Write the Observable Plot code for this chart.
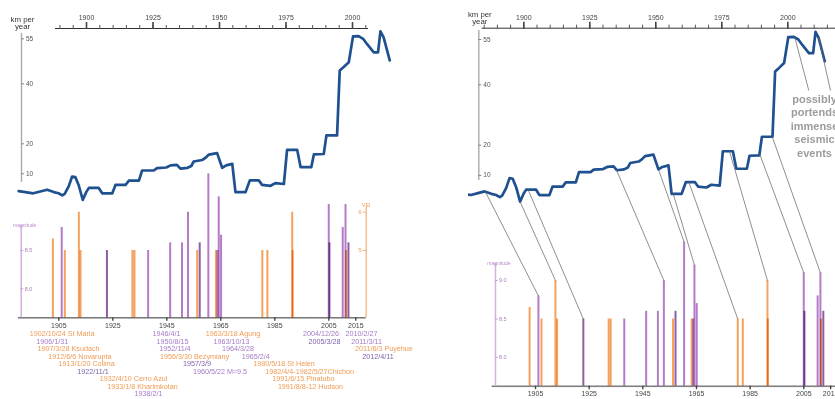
<!DOCTYPE html>
<html><head><meta charset="utf-8">
<script src="https://cdn.jsdelivr.net/npm/d3@7"></script>
<script src="https://cdn.jsdelivr.net/npm/@observablehq/plot@0.6"></script>
<style>
html,body{margin:0;padding:0;background:#fff;}
#chart{position:relative;width:835px;height:399px;overflow:hidden;background:#fff;}
#chart svg{position:absolute;left:0;top:0;background:transparent;}
</style></head><body><div id="chart"></div>
<script>
// ---------------- DATA ----------------
// rate curve (km per year)
const rateYears = [1874.5,1877,1880,1883,1885.2,1887.7,1889.5,1890.9,1891.8,1893.3,1894.6,1895.8,1897.1,1898.6,1899.9,1900.9,1904.6,1905.9,1909.7,1910.9,1914.7,1915.9,1919.7,1920.9,1925.3,1926.5,1930,1931.6,1934,1935.3,1938,1939.4,1940.3,1943.5,1944.7,1946,1949.1,1951,1952.5,1954.8,1956.0,1959.8,1961.4,1964.8,1966.0,1969.2,1971,1974.2,1975.4,1979.2,1980.5,1984.5,1985.5,1989.2,1990.2,1994.2,1995.2,1996.7,1998.6,2000.2,2002.3,2004,2005.5,2008.0,2009.6,2010.5,2011.7,2014.0];
const rateKm = [4.2,3.9,3.5,4.2,4.7,3.9,3.5,2.8,3.3,5.8,9.1,8.9,6.1,1.3,3.9,5.3,5.3,3.5,3.5,6.3,6.3,7.7,7.7,11.1,11.1,11.9,12.1,12.8,13.0,11.7,12.0,12.6,14.1,14.6,15.3,16.4,16.9,12.0,12.8,13.3,3.9,3.9,7.8,7.8,6.3,6.0,6.9,6.6,18.0,18.0,12.2,12.2,16.5,16.6,22.8,22.8,44.4,45.6,47.2,55.8,55.9,55.0,53.2,50.5,50.5,57.5,55.5,47.8];

// events: volcanoes (VEI) and earthquakes (magnitude)
const eventDates = ["1902/10/24","1906/1/31","1907/3/28","1912/6/6","1913/1/20","1922/11/1","1932/4/10","1933/1/8","1938/2/1","1946/4/1","1950/8/15","1952/11/4","1956/3/30","1957/3/9","1960/5/22","1963/3/18","1963/10/13","1964/3/28","1965/2/4","1980/5/18","1982/4/4","1991/6/15","1991/8/8","2004/12/26","2005/3/28","2010/2/27","2011/3/11","2011/6/3","2012/4/11"];
const eventKind = ["v","q","v","v","v","qd","v","v","q","q","q","q","v","qd","q","v","q","q","q","v","v","v","v","q","qd","q","q","v","qd"];
const eventValue = [5.3,8.8,5,6,5,8.5,5,5,8.5,8.6,8.6,9.0,5,8.6,9.5,5,8.5,9.2,8.7,5,5,6,5,9.1,8.6,8.8,9.1,5,8.6];
const eventLabels = ["1902/10/24 St Maria","1906/1/31","1907/3/28 Ksudach","1912/6/6 Novarupta","1913/1/20 Colima","1922/11/1","1932/4/10 Cerro Azul","1933/1/8 Kharimkotan","1938/2/1","1946/4/1","1950/8/15","1952/11/4","1956/3/30 Bezymiany","1957/3/9","1960/5/22 M=9.5","1963/3/18 Agung","1963/10/13","1964/3/28","1965/2/4","1980/5/18 St Helen","1982/4/4-1982/5/27Chichon","1991/6/15 Pinatubo","1991/8/8-12 Hudson","2004/12/26","2005/3/28","2010/2/27","2011/3/11","2011/6/3 Puyehue","2012/4/11"];

// tick labels
const topTicks = [1900,1925,1950,1975,2000];
const barTicks = [1905,1925,1945,1965,1985,2005,2015];
const kmTicks = [55,40,20,10];
const magTicksLeft = [8.5,8.0];
const magTicksRight = [9.0,8.5,8.0];
const veiTicks = [6,5];

// right panel: curve year -> event index
const linkFromYear = [1885.4,1898.6,1901.6,1935.0,1951.0,1956.6,1962.5,1977.9,1989.3,1994.1];
const linkToEvent = [1,3,5,11,14,17,19,21,23,26];
const noteFromYear = [2002.65,2011.7];
const noteText = "possibly\nportends\nimmense\nseismic\nevents";

// ---------------- LAYOUT / STYLE ----------------
const W = 835, H = 399;
const FONT = '"Liberation Sans", Arial, Helvetica, sans-serif';
const LINE = "#1f5190";
const barColor = {v: "#f5a25d", q: "#b57bc9", qd: "#8e5ea3"};
const textColor = {v: "#f09c55", q: "#a57bc6", qd: "#7d5ea6"};
const MAGAXIS = "#d4b0de", VEIAXIS = "#f7c08e";
// label layout (row, centre in bar-axis years)
const labelRow = [0,1,2,3,4,5,6,7,8, 0,1,2,3,4,5, 0,1,2,3,4,5,6,7, 0,1,0,1,2,3];
const labelCenter = [1906.2,1902.6,1908.6,1912.8,1915.3,1917.7,1932.7,1936.0,1938.2,1944.9,1947.1,1948.0,1955.3,1956.2,1964.7,1969.5,1969.0,1971.4,1977.9,1988.4,1997.9,1995.6,1998.2,2002.1,2003.4,2017.1,2019.0,2025.4,2023.2];

function decYear(s) {
  const [y, m, d] = s.split("/").map(Number);
  const start = Date.UTC(y, 0, 1), end = Date.UTC(y + 1, 0, 1);
  return y + (Date.UTC(y, m - 1, d) - start + 43200000) / (end - start);
}
const veiToMag = v => 8.5 + 0.5 * (v - 5);
const rate = rateYears.map((year, i) => ({year, km: rateKm[i]}));
const events = eventDates.map((d, i) => ({t: decYear(d), kind: eventKind[i], value: eventValue[i], label: eventLabels[i]}));
const topMag = e => e.kind === "v" ? veiToMag(e.value) : e.value;
function rateAt(yr) {
  for (let i = 1; i < rateYears.length; i++) {
    if (yr <= rateYears[i]) {
      const f = (yr - rateYears[i-1]) / (rateYears[i] - rateYears[i-1]);
      return rateKm[i-1] + f * (rateKm[i] - rateKm[i-1]);
    }
  }
  return rateKm[rateKm.length - 1];
}

// panel frame helper: pixel anchors -> scale domains and margins
function panel(cfg) {
  const {x, y} = cfg;
  const xv = p => x.v0 + (p - x.p0) / x.k;
  const yv = p => y.v0 - (p - y.p0) / y.k;
  const xo = {domain: [xv(x.frame[0]), xv(x.frame[1])]};
  if (cfg.noXAxis) xo.axis = null;
  return {
    xv, yv,
    base: yv(y.frame[1]), top: yv(y.frame[0]),
    opts: {
      width: W, height: H,
      marginLeft: x.frame[0], marginRight: W - x.frame[1],
      marginTop: y.frame[0], marginBottom: H - y.frame[1],
      x: xo,
      y: {domain: [yv(y.frame[1]), yv(y.frame[0])], axis: null},
      color: {type: "identity"},
      style: {background: "transparent", overflow: "visible", fontFamily: FONT}
    }
  };
}
const chart = document.getElementById("chart");
const add = (P, marks) => { const svg = Plot.plot({...P.opts, marks}); chart.appendChild(svg); return svg; };
const yearFmt = d => String(d);

// ---- rate panel marks
function rateMarks(P, o) {
  const ax = P.xv(o.kmAxis);
  return [
    Plot.ruleY([P.top], {x1: P.xv(o.topAxis[0]), x2: P.xv(o.topAxis[1]), stroke: "#333", strokeWidth: 1}),
    Plot.axisX({anchor: "top", ticks: d3.range(o.minor[0], o.minor[1], 5), tickSize: 4, tickFormat: () => "", stroke: "#555", label: null}),
    Plot.axisX({anchor: "top", ticks: topTicks, tickSize: 7, strokeWidth: 1.6, tickPadding: 1.5, fontSize: 7, color: "#444", tickFormat: yearFmt, label: null}),
    Plot.ruleX([ax], {y1: P.yv(o.kmSpan[1]), y2: P.yv(o.kmSpan[0]), stroke: "#aaa", strokeWidth: 1.4}),
    Plot.ruleY(kmTicks, {y: d => d, x1: ax, x2: P.xv(o.kmAxis + 3), stroke: "#888"}),
    Plot.text(kmTicks, {x: ax, y: d => d, text: d => String(d), dx: 4.5, textAnchor: "start", fontSize: 6.5, fill: "#555"}),
    Plot.text(["km per\nyear"], {x: P.xv(o.kmAxis + 1), y: P.yv(o.titleBottom), lineAnchor: "bottom", lineHeight: 0.95, fontSize: 7.8, fill: "#333"}),
    Plot.line(rate, {x: "year", y: "km", stroke: LINE, strokeWidth: 2.7, strokeLinejoin: "round", clip: o.clip})
  ];
}
// ---- bar panel marks
function barMarks(P, o) {
  const m = P.xv(o.magAxis), v = P.xv(o.veiAxis);
  return [
    Plot.ruleY([P.base], {x1: P.xv(o.axis[0]), x2: P.xv(o.axis[1]), stroke: "#333", strokeWidth: 1}),
    Plot.axisX({anchor: "bottom", ticks: d3.range(o.minor[0], o.minor[1]), tickSize: 1.6, tickFormat: () => "", stroke: "#999", label: null}),
    Plot.axisX({anchor: "bottom", ticks: barTicks, tickSize: 3.5, strokeWidth: 1.4, tickPadding: 1.5, fontSize: 7, color: "#444", tickFormat: yearFmt, label: null}),
    Plot.ruleX([m], {y1: P.base, y2: P.yv(o.magTop), stroke: MAGAXIS, strokeWidth: 1.5}),
    Plot.ruleY(o.magTicks, {y: d => d, x1: m, x2: P.xv(o.magAxis + 2.5), stroke: "#c39ad0"}),
    Plot.text(o.magTicks, {x: m, y: d => d, text: d => d.toFixed(1), dx: 3.5, textAnchor: "start", fontSize: 5.5, fill: "#a77fb8"}),
    Plot.text(["magnitude"], {x: P.xv(o.magAxis + 3.5), y: P.yv(o.magTop), dy: 1.5, lineAnchor: "bottom", fontSize: 5, fill: "#b98ac8"}),
    Plot.ruleX([v], {y1: P.base, y2: P.yv(o.veiTop), stroke: VEIAXIS, strokeWidth: 1.5}),
    Plot.ruleY(veiTicks, {y: veiToMag, x1: P.xv(o.veiAxis - 3), x2: v, stroke: "#f2b37e"}),
    Plot.text(veiTicks, {x: v, y: veiToMag, text: d => String(d), dx: -4.5, textAnchor: "end", fontSize: 6, fill: "#f0a060"}),
    Plot.text(["VEI"], {x: v, y: P.yv(o.veiTop), dy: -0.5, lineAnchor: "bottom", fontSize: 5.5, fill: "#f0a060"}),
    Plot.ruleX(events, {x: "t", y1: P.base, y2: topMag, stroke: e => barColor[e.kind], strokeWidth: 2, mixBlendMode: "multiply"})
  ];
}

// ---------------- LEFT PANEL ----------------
const L1 = panel({x: {p0: 86, v0: 1900, k: 2.66, frame: [6, 410]}, y: {p0: 38.3, v0: 55, k: 3.0, frame: [28, 206]}});
add(L1, rateMarks(L1, {topAxis: [55, 368], minor: [1890, 2006], kmAxis: 21, kmSpan: [33, 182], titleBottom: 28.5, clip: false}));

const L2 = panel({x: {p0: 58.3, v0: 1905, k: 2.7, frame: [10, 400]}, y: {p0: 250, v0: 8.5, k: 76.6, frame: [165, 317.3]}});
add(L2, barMarks(L2, {axis: [18, 365.7], minor: [1891, 2019], magAxis: 20.7, magTop: 225, magTicks: magTicksLeft, veiAxis: 365.7, veiTop: 207}));

const L3 = panel({noXAxis: true, x: {p0: 58.3, v0: 1905, k: 2.7, frame: [10, 400]}, y: {p0: 333.5, v0: 0, k: -7.5, frame: [326, 399]}});
add(L3, [
  Plot.text(events, {x: (d, i) => labelCenter[i], y: (d, i) => labelRow[i], text: "label", fill: d => textColor[d.kind], fontSize: 7.2})
]);

// ---------------- RIGHT PANEL ----------------
const R1 = panel({x: {p0: 523.3, v0: 1900, k: 2.64, frame: [468, 835]}, y: {p0: 39, v0: 55, k: 3.02, frame: [27.7, 206]}});
const r1 = add(R1, [
  ...rateMarks(R1, {topAxis: [481.7, 845], minor: [1885, 2020], kmAxis: 478.3, kmSpan: [30, 180], titleBottom: 23.5, clip: true}),
  Plot.text([noteText], {x: R1.xv(814), y: R1.yv(92.5), lineAnchor: "top", lineHeight: 1.23, fontSize: 11, fontWeight: "bold", fill: "#9c9c9c"})
]);

const R2 = panel({x: {p0: 535, v0: 1905, k: 2.683, frame: [480, 835]}, y: {p0: 280, v0: 9.0, k: 77, frame: [235, 385.7]}});
const r2 = add(R2, barMarks(R2, {axis: [491.7, 845], minor: [1890, 2021], magAxis: 495, magTop: 263, magTicks: magTicksRight, veiAxis: 842, veiTop: 262}));

// connectors (pixel space through both panels' scales)
const sx1 = r1.scale("x"), sy1 = r1.scale("y"), sx2 = r2.scale("x"), sy2 = r2.scale("y");
const links = linkFromYear.map((yr, i) => {
  const e = events[linkToEvent[i]];
  return {x1: sx1.apply(yr), y1: sy1.apply(rateAt(yr)), x2: sx2.apply(e.t), y2: sy2.apply(topMag(e))};
});
const noteTargets = [[R1.xv(808.3), R1.yv(90)], [R1.xv(830), R1.yv(90)]];
noteFromYear.forEach((yr, i) => links.push({
  x1: sx1.apply(yr), y1: sy1.apply(rateAt(yr)),
  x2: sx1.apply(noteTargets[i][0]), y2: sy1.apply(noteTargets[i][1])
}));
chart.appendChild(Plot.plot({
  width: W, height: H, margin: 0,
  x: {type: "identity", axis: null}, y: {type: "identity", axis: null},
  style: {background: "transparent", overflow: "visible"},
  marks: [Plot.link(links, {x1: "x1", y1: "y1", x2: "x2", y2: "y2", stroke: "#6a6a6a", strokeWidth: 0.75})]
}));
</script></body></html>
